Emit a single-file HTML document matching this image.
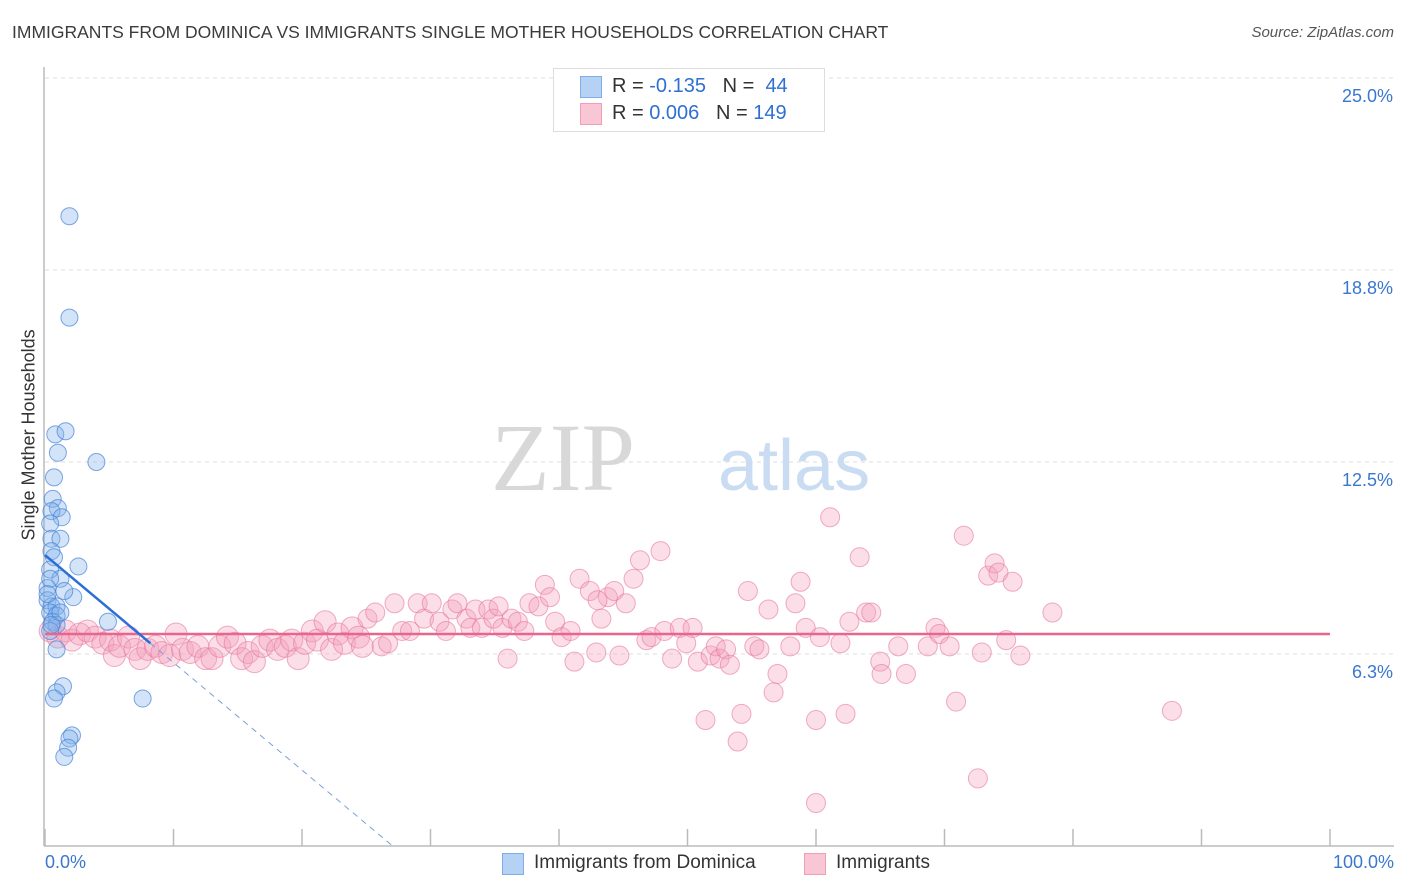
<!DOCTYPE html>
<html><head><meta charset="utf-8"><style>
body{margin:0;background:#fff;font-family:"Liberation Sans",sans-serif;}
#wrap{position:relative;width:1406px;height:892px;overflow:hidden;}
.t{position:absolute;white-space:nowrap;}
</style></head><body>
<div id="wrap">
<div class="t" style="left:12px;top:22px;font-size:17.5px;color:#3b3b3b;">IMMIGRANTS FROM DOMINICA VS IMMIGRANTS SINGLE MOTHER HOUSEHOLDS CORRELATION CHART</div>
<div class="t" style="right:12px;top:24px;font-size:15px;color:#555;font-style:italic;">Source: ZipAtlas.com</div>
<div class="t" style="left:-56px;top:445px;font-size:18px;color:#333;transform:rotate(-90deg);width:170px;text-align:center;">Single Mother Households</div>
<svg id="plot" width="1406" height="892" style="position:absolute;left:0;top:0"></svg>
<div style="position:absolute;left:553px;top:68px;width:270px;height:62px;border:1px solid #ddd;background:#fff;font-size:20px;">
 <div style="position:absolute;left:26px;top:7px;width:20px;height:20px;background:#b5d2f5;border:1px solid #7eaee8;"></div>
 <div class="t" style="left:58px;top:6px;color:#333;">R = <span style="color:#2f6fd0">-0.135</span>&nbsp;&nbsp;&nbsp;N =&nbsp;&nbsp;<span style="color:#2f6fd0">44</span></div>
 <div style="position:absolute;left:26px;top:34px;width:20px;height:20px;background:#f9c6d5;border:1px solid #ee9fb7;"></div>
 <div class="t" style="left:58px;top:33px;color:#333;">R = <span style="color:#2f6fd0">0.006</span>&nbsp;&nbsp;&nbsp;N = <span style="color:#2f6fd0">149</span></div>
</div>
<div class="t" style="left:45px;top:852px;font-size:18px;color:#3a77d0;">0.0%</div>
<div class="t" style="right:12px;top:852px;font-size:18px;color:#3a77d0;">100.0%</div>
<div style="position:absolute;left:502px;top:853px;width:20px;height:20px;background:#b5d2f5;border:1px solid #7eaee8;"></div>
<div class="t" style="left:534px;top:852px;font-size:19px;color:#333;">Immigrants from Dominica</div>
<div style="position:absolute;left:804px;top:853px;width:20px;height:20px;background:#f9c6d5;border:1px solid #ee9fb7;"></div>
<div class="t" style="left:836px;top:852px;font-size:19px;color:#333;">Immigrants</div>
</div>
<script>
const yTicks=[25.0,18.75,12.5,6.25];
const yTickLabels=["25.0%","18.8%","12.5%","6.3%"];
const xTicks=[0,10,20,30,40,50,60,70,80,90,100];
const blueX=[1.9,1.9,0.8,1.6,1.0,4.0,0.7,0.6,1.0,0.5,1.3,0.4,0.5,1.2,0.5,0.7,2.6,0.4,1.2,0.2,2.2,0.2,1.5,0.5,0.9,0.4,0.9,0.6,4.9,0.9,0.4,0.9,7.6,1.4,0.9,0.7,2.1,1.9,1.8,1.5,0.4,0.2,0.5,1.2];
const blueY=[20.5,17.2,13.4,13.5,12.8,12.5,12.0,11.3,11.0,10.9,10.7,10.5,10.0,10.0,9.6,9.4,9.1,9.0,8.7,8.4,8.1,8.0,8.3,7.8,7.8,7.6,7.5,7.3,7.3,7.2,7.0,6.4,4.8,5.2,5.0,4.8,3.6,3.5,3.2,2.9,8.7,8.2,7.2,7.6];
const pinkX=[0.4,1.0,1.6,2.1,2.7,3.3,3.9,4.5,5.1,5.4,5.8,6.5,7.0,7.4,8.0,8.6,9.1,9.7,10.2,10.7,11.3,11.9,12.5,13.0,13.6,14.2,14.8,15.3,15.8,16.3,16.9,17.5,18.1,18.7,19.2,19.7,20.2,20.8,21.2,21.8,22.3,22.8,23.3,23.9,24.4,24.7,25.1,25.7,26.2,26.7,27.2,27.8,28.4,29.0,29.5,30.1,30.7,31.2,31.7,32.1,32.8,33.1,33.5,34.0,34.5,34.9,35.3,35.6,36.0,36.3,36.8,37.3,37.7,38.4,38.9,39.3,39.7,40.2,40.9,41.2,41.6,42.4,42.9,43.3,43.8,44.3,44.7,45.2,45.8,46.3,46.8,47.2,47.9,48.2,48.8,49.4,49.9,50.4,50.8,51.4,51.8,52.2,52.5,53.0,53.3,53.9,54.2,54.7,55.2,55.6,56.3,56.7,57.0,58.0,58.4,58.8,59.2,60.0,60.0,60.3,61.1,61.9,62.3,62.6,63.4,63.9,64.3,65.0,65.1,66.4,67.0,68.7,69.3,69.6,70.4,70.9,71.5,72.6,72.9,73.4,73.9,74.2,74.8,75.3,75.9,78.4,87.7,43.0];
const pinkY=[7.0,6.8,7.0,6.7,6.9,7.0,6.8,6.6,6.7,6.2,6.5,6.8,6.4,6.1,6.4,6.5,6.3,6.2,6.9,6.4,6.3,6.5,6.1,6.1,6.5,6.8,6.6,6.1,6.3,6.0,6.5,6.7,6.4,6.5,6.7,6.1,6.6,7.0,6.7,7.3,6.4,6.9,6.6,7.1,6.8,6.5,7.4,7.6,6.5,6.6,7.9,7.0,7.0,7.9,7.4,7.9,7.3,7.0,7.7,7.9,7.4,7.1,7.7,7.1,7.7,7.4,7.8,7.1,6.1,7.4,7.3,7.0,7.9,7.8,8.5,8.1,7.3,6.8,7.0,6.0,8.7,8.3,6.3,7.4,8.1,8.3,6.2,7.9,8.7,9.3,6.7,6.8,9.6,7.0,6.1,7.1,6.6,7.1,6.0,4.1,6.2,6.5,6.1,6.4,5.9,3.4,4.3,8.3,6.5,6.4,7.7,5.0,5.6,6.5,7.9,8.6,7.1,4.1,1.4,6.8,10.7,6.6,4.3,7.3,9.4,7.6,7.6,6.0,5.6,6.5,5.6,6.5,7.1,6.9,6.5,4.7,10.1,2.2,6.3,8.8,9.2,8.9,6.7,8.6,6.2,7.6,4.4,8.0];
const blueIntercept=9.47, blueSlope=-0.35, blueSolidEnd=8.2;
const pinkIntercept=6.9, pinkSlope=0.0;

const X=v=>45+v*12.85, Y=v=>846-v*30.72;
const svg=document.getElementById('plot');
const NS='http://www.w3.org/2000/svg';
function mk(tag,attrs){const e=document.createElementNS(NS,tag);for(const k in attrs)e.setAttribute(k,attrs[k]);svg.appendChild(e);return e;}
// gridlines + y labels
yTicks.forEach((t,i)=>{
  const g=mk('line',{x1:45,x2:1394,y1:Y(t),y2:Y(t),stroke:'#ddd','stroke-dasharray':'4,4','stroke-width':1});
  
  
  const tx=mk('text',{x:1393,y:Y(t)+24,'text-anchor':'end','font-size':18,fill:'#3a77d0','font-family':'Liberation Sans, sans-serif'});
  tx.textContent=yTickLabels[i];
  
  
});
// axes
let a=mk('line',{x1:44,x2:44,y1:67,y2:846,stroke:'#bbb','stroke-width':1.5});


a=mk('line',{x1:44,x2:1394,y1:846,y2:846,stroke:'#bbb','stroke-width':1.5});


xTicks.forEach(t=>{
  const l=mk('line',{x1:X(t),x2:X(t),y1:829,y2:846,stroke:'#bbb','stroke-width':1.5});
  
  
});
// watermark
let w=mk('text',{x:635,y:490,'text-anchor':'end','font-size':96,fill:'#d8d8d8','font-family':'Liberation Serif, serif'});
w.textContent='ZIP';


w=mk('text',{x:718,y:490,'font-size':72,fill:'#c9dcf2','font-family':'Liberation Sans, sans-serif'});
w.textContent='atlas';


// points
pinkX.forEach((x,i)=>{
  const c=mk('circle',{cx:X(x),cy:Y(pinkY[i]),r:x<25?11:9.5,fill:'rgba(244,160,188,0.35)',stroke:'rgba(232,120,155,0.6)','stroke-width':1});
  
  
});
blueX.forEach((x,i)=>{
  const c=mk('circle',{cx:X(x),cy:Y(blueY[i]),r:8.5,fill:'rgba(130,178,236,0.35)',stroke:'rgba(70,130,215,0.7)','stroke-width':1});
  
  
});
// trend lines
const pl=mk('line',{x1:X(0),x2:X(100),y1:Y(pinkIntercept),y2:Y(pinkIntercept+pinkSlope*100),stroke:'#e8668e','stroke-width':2.5});


const bl=mk('line',{x1:X(0),x2:X(blueSolidEnd),y1:Y(blueIntercept),y2:Y(blueIntercept+blueSlope*blueSolidEnd),stroke:'#2b6fd6','stroke-width':2.5});


const xEnd=-blueIntercept/blueSlope;
const bd=mk('line',{x1:X(blueSolidEnd),x2:X(xEnd),y1:Y(blueIntercept+blueSlope*blueSolidEnd),y2:Y(0),stroke:'#7a9fd8','stroke-width':1,'stroke-dasharray':'6,5'});


</script>
</body></html>
